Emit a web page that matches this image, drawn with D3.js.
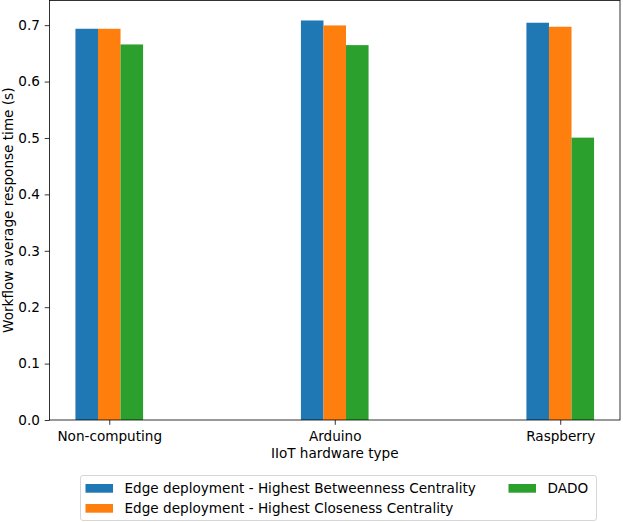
<!DOCTYPE html>
<html>
<head>
<meta charset="utf-8">
<script src="https://cdn.jsdelivr.net/npm/d3@7"></script>
<style>
  body { margin: 0; background: #fff; }
  text { font-family: "DejaVu Sans", sans-serif; fill: #000; }
</style>
</head>
<body>
<div id="chart"></div>
<script>
var categories = ["Non-computing", "Arduino", "Raspberry"];
var seriesNames = [
  "Edge deployment - Highest Betweenness Centrality",
  "Edge deployment - Highest Closeness Centrality",
  "DADO"
];
var betweenness = [0.6936, 0.7083, 0.7043];
var closeness = [0.6936, 0.6995, 0.6972];
var dado = [0.6658, 0.6646, 0.5006];
var yTicks = [0.0, 0.1, 0.2, 0.3, 0.4, 0.5, 0.6, 0.7];
var colors = ["#1f77b4", "#ff7f0e", "#2ca02c"];

var series = [betweenness, closeness, dado];
var W = 623, H = 522;
var fs = "13.6px";
var margin = { top: 0.5, left: 49.5, right: 3, bottom: 102 };
var width = W - margin.left - margin.right;
var height = 420 - margin.top;

var svg = d3.select("#chart").append("svg")
  .attr("width", W).attr("height", H);

var g = svg.append("g")
  .attr("transform", "translate(" + margin.left + "," + margin.top + ")");

var barW = 0.1;
var x = d3.scaleLinear().domain([-0.265, 2.265]).range([0, width]);
var ymax = d3.max(series.flat()) * 1.05;
var y = d3.scaleLinear().domain([0, ymax]).range([height, 0]);

// bars
series.forEach(function (vals, s) {
  g.append("g")
    .selectAll("rect")
    .data(vals)
    .enter()
    .append("rect")
    .attr("x", (d, i) => x(i + (s - 1) * barW - barW / 2))
    .attr("width", x(barW) - x(0))
    .attr("y", (d) => y(d))
    .attr("height", (d) => y(0) - y(d))
    .attr("fill", colors[s]);
});

// axes
var yAxis = d3.axisLeft(y).tickValues(yTicks).tickSize(4.8).tickPadding(4.8)
  .tickFormat(d3.format(".1f"));
var xAxis = d3.axisBottom(x).tickValues([0, 1, 2]).tickSize(4.8).tickPadding(6.2)
  .tickFormat((d) => categories[d]);

var ya = g.append("g").call(yAxis);
var xa = g.append("g").attr("transform", "translate(0," + height + ")").call(xAxis);
[ya, xa].forEach(function (a) {
  a.select(".domain").remove();
  a.selectAll("line").attr("stroke", "#000").attr("stroke-width", 0.8);
  a.selectAll("text").style("font-size", fs).attr("fill", "#000");
});

// frame
g.append("rect")
  .attr("x", 0).attr("y", 0)
  .attr("width", width).attr("height", height)
  .attr("fill", "none").attr("stroke", "#000").attr("stroke-width", 0.8);

// axis labels
g.append("text")
  .attr("x", x(1)).attr("y", height + 37.5)
  .attr("text-anchor", "middle")
  .style("font-size", fs)
  .text("IIoT hardware type");

svg.append("text")
  .attr("transform", "translate(12.5," + (margin.top + height / 2) + ") rotate(-90)")
  .attr("text-anchor", "middle")
  .style("font-size", fs)
  .text("Workflow average response time (s)");

// legend
var leg = svg.append("g").attr("transform", "translate(80.5,475.5)");
leg.append("rect")
  .attr("width", 516).attr("height", 45)
  .attr("rx", 2.5)
  .attr("fill", "#fff").attr("stroke", "#ccc").attr("stroke-width", 0.8);

var legPos = [[5, 12.8], [5, 32.8], [428, 12.8]];
seriesNames.forEach(function (name, i) {
  var item = leg.append("g")
    .attr("transform", "translate(" + legPos[i][0] + "," + legPos[i][1] + ")");
  item.append("rect")
    .attr("x", 0).attr("y", -4.3)
    .attr("width", 27.5).attr("height", 8.7)
    .attr("fill", colors[i]);
  item.append("text")
    .attr("x", 39).attr("y", 0).attr("dy", "0.36em")
    .style("font-size", fs)
    .text(name);
});
</script>
</body>
</html>
